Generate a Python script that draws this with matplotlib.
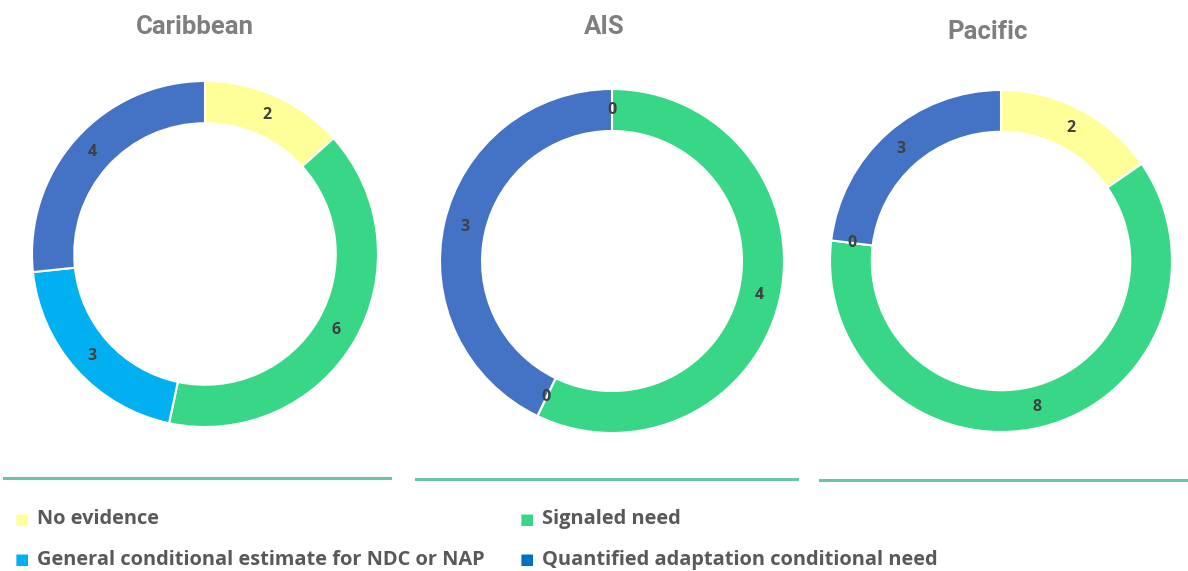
import matplotlib.pyplot as plt
from matplotlib.lines import Line2D

W, H = 1188, 571

categories = ["No evidence", "Signaled need",
              "General conditional estimate for NDC or NAP",
              "Quantified adaptation conditional need"]
slice_colors = ["#FFFF99", "#38D787", "#00B0F0", "#4472C4"]
legend_colors = ["#FFFF99", "#38D787", "#00B0F0", "#0070C0"]

regions = ["Caribbean", "AIS", "Pacific"]
caribbean = [2, 6, 3, 4]
ais = [0, 4, 0, 3]
pacific = [2, 8, 0, 3]
series = [caribbean, ais, pacific]

# pixel layout: donut centre, radius, title position, underline span
centres = [(205, 254), (612, 261), (1001, 261)]
radius_px = [173, 172, 171]
title_pos = [(195, 27), (604, 27), (988, 32)]
underlines = [(4, 390, 478), (416, 797, 479), (820, 1188, 480)]

plt.rcParams['font.family'] = ['Open Sans', 'DejaVu Sans']
fig = plt.figure(figsize=(W / 100, H / 100), dpi=100)

ring = 42 / 172
for vals, (cx, cy), R in zip(series, centres, radius_px):
    ax = fig.add_axes([(cx - 1.3 * R) / W, 1 - (cy + 1.3 * R) / H,
                       2.6 * R / W, 2.6 * R / H])
    total = sum(vals)
    wedges, _, autotexts = ax.pie(
        vals, colors=slice_colors, startangle=90, counterclock=False,
        radius=1, autopct=lambda p, t=total: f"{p * t / 100:.0f}",
        pctdistance=1 - ring / 2,
        wedgeprops=dict(width=ring, edgecolor="white", linewidth=1.5))
    for t in autotexts:
        t.set_color("#404040")
        t.set_fontsize(11.5)
        t.set_fontweight("bold")
    ax.set_xlim(-1.3, 1.3)
    ax.set_ylim(-1.3, 1.3)
    ax.axis("off")

for name, (tx, ty) in zip(regions, title_pos):
    fig.text(tx / W, 1 - ty / H, name, ha="center", va="center",
             fontsize=18.5, fontweight="bold", color="#7F7F7F",
             family=["Roboto", "DejaVu Sans"])

for x0, x1, y in underlines:
    fig.add_artist(Line2D([x0 / W, x1 / W], [1 - y / H, 1 - y / H],
                          color="#6CC4A6", linewidth=2.2))

# legend in two columns
legend_pos = [(22, 519), (527, 519), (22, 560), (527, 560)]
for label, col, (lx, ly) in zip(categories, legend_colors, legend_pos):
    fig.text(lx / W, 1 - ly / H, "\u25A0", ha="center", va="center",
             fontsize=11, color=col, family="DejaVu Sans")
    fig.text((lx + 15) / W, 1 - ly / H, label, ha="left", va="center",
             fontsize=14.4, fontweight="bold", color="#595959")

fig.savefig("out.png", dpi=100, facecolor="white")
